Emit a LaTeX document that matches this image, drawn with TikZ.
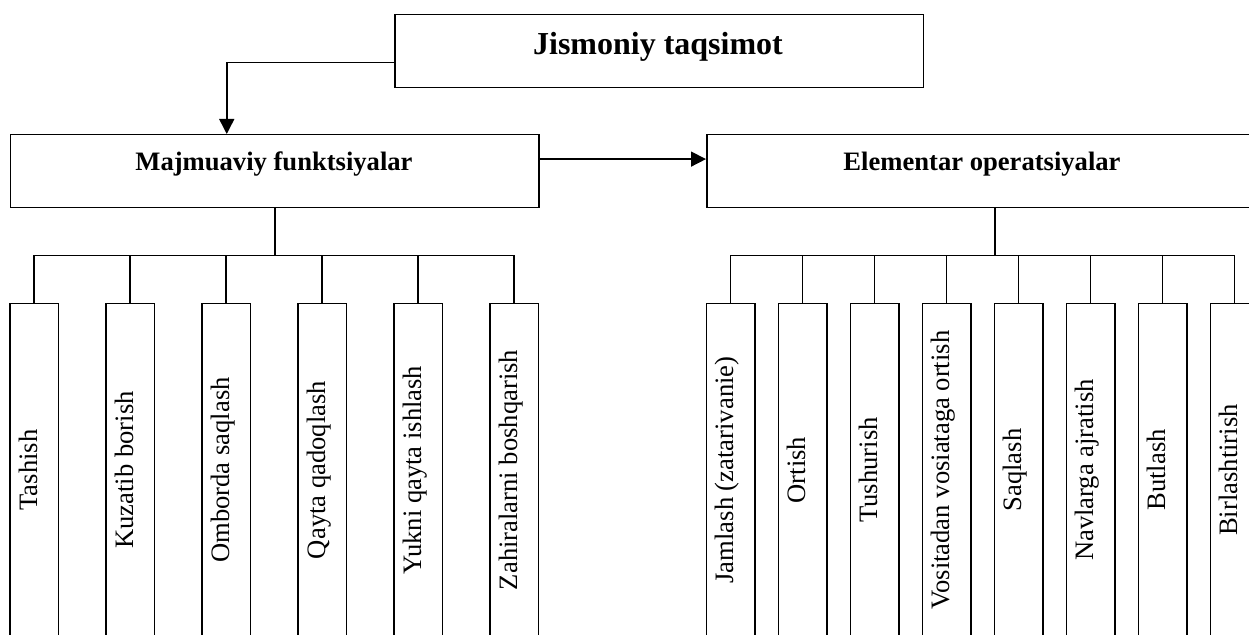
\documentclass[tikz,border=0pt]{standalone}
\usepackage{fontspec}
\setmainfont{Liberation Serif}
\usetikzlibrary{arrows.meta}
\begin{document}
\begin{tikzpicture}[x=0.5pt,y=-0.5pt,
  line width=0.75pt,
  box/.style={draw, rectangle, inner sep=0pt, line width=0.75pt},
  arr/.style={-{Triangle[length=7.5pt,width=7.5pt]}},
  head/.style={font=\bfseries\fontsize{13.3}{16}\selectfont, anchor=base, inner sep=0pt},
  small/.style={font=\fontsize{13.3}{16}\selectfont, rotate=90, anchor=base, inner sep=0pt},
  leaf/.style={box, minimum width=24.25pt, minimum height=180pt, anchor=north}]
\useasboundingbox (0,0) rectangle (1249,635);
\clip (0,0) rectangle (1249,635);
% main boxes
\node[box, minimum width=264.35pt, minimum height=36.35pt, anchor=north west] (top) at (394,14) {};
\node[box, minimum width=264.3pt, minimum height=36.35pt, anchor=north west] (maj) at (9.7,134) {};
\node[box, minimum width=276pt, minimum height=36.35pt, anchor=north west] (elem) at (706,134) {};
\node[head, font=\bfseries\fontsize{16}{19}\selectfont] (ttl) at (658,55) {Jismoniy taqsimot};
\node[head] (majt) at (274,170.5) {Majmuaviy funktsiyalar};
\node[head] (elemt) at (982,170.5) {Elementar operatsiyalar};
% connectors between main boxes
\draw[arr] ([yshift=-5.8pt]top.west) -| ([xshift=-24pt]maj.north);
\draw[arr] ([yshift=6pt]maj.east) -- ([yshift=6pt]elem.west);
% left group
\foreach \x/\t [count=\i] in {34/Tashish, 130/Kuzatib borish, 226/Omborda saqlash, 322/Qayta qadoqlash, 418/Yukni qayta ishlash, 514/Zahiralarni boshqarish} {
  \node[leaf] (L\i) at (\x,303) {};
  \node[small] (LT\i) at (\x+3,470) {\t};
  \draw (maj.south) -- ++(0,47.3) -| (L\i.north);
}
% right group
\foreach \x/\t [count=\i] in {730.7/Jamlash (zatarivanie), 802.7/Ortish, 874.7/Tushurish, 946.7/Vositadan vosiataga ortish, 1018.7/Saqlash, 1090.7/Navlarga ajratish, 1162.7/Butlash, 1234.7/Birlashtirish} {
  \node[leaf] (R\i) at (\x,303) {};
  \node[small] (RT\i) at (\x+3,470) {\t};
  \draw ([xshift=6pt]elem.south) -- ++(0,47.3) -| (R\i.north);
}
\end{tikzpicture}
\end{document}
